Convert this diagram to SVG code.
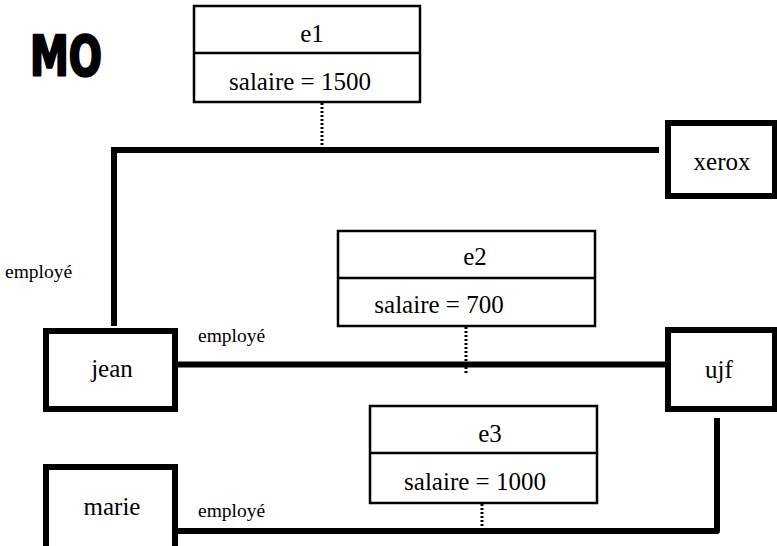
<svg xmlns="http://www.w3.org/2000/svg" width="777" height="546" viewBox="0 0 777 546">
<style>
  .lbl { font-size: 25px; fill: #000; text-anchor: middle; }
  .rl { font-size: 19.5px; fill: #000; }
  .obj { fill: #fff; stroke: #000; stroke-width: 6; }
  .link { fill: none; stroke: #000; stroke-width: 2.5; }
  .conn { fill: none; stroke: #000; stroke-width: 6; stroke-linecap: butt; }
  .dot { fill: none; stroke: #000; stroke-width: 3; stroke-dasharray: 2 2; }
</style>
<rect width="777" height="546" fill="#fff"/>
<text x="30" y="75" font-family="DejaVu Sans, sans-serif" font-weight="bold" font-size="56" textLength="72" lengthAdjust="spacingAndGlyphs" stroke="#000" stroke-width="2.5" stroke-linejoin="round">MO</text>

<g id="connectors" font-family="Liberation Serif, serif">
  <path class="conn" d="M114,326 V150 H659" stroke-linejoin="miter"/>
  <path class="conn" d="M178,364.5 H668"/>
  <path class="conn" d="M178,531 H717 V418" stroke-linejoin="round"/>
  <path class="dot" d="M322,103 V147"/>
  <path class="dot" d="M466,327 V375"/>
  <path class="dot" d="M482,504 V529"/>
  <text class="rl" x="5" y="278">employé</text>
  <text class="rl" x="198" y="342">employé</text>
  <text class="rl" x="198" y="517">employé</text>
</g>

<g id="e1" font-family="Liberation Serif, serif">
  <rect class="link" x="194" y="6" width="226" height="96"/>
  <line class="link" x1="194" y1="53" x2="420" y2="53"/>
  <text class="lbl" x="312" y="42">e1</text>
  <text class="lbl" x="300" y="90">salaire = 1500</text>
</g>

<g id="e2" font-family="Liberation Serif, serif">
  <rect class="link" x="338" y="231" width="257" height="95"/>
  <line class="link" x1="338" y1="278" x2="595" y2="278"/>
  <text class="lbl" x="475" y="265">e2</text>
  <text class="lbl" x="439" y="313">salaire = 700</text>
</g>

<g id="e3" font-family="Liberation Serif, serif">
  <rect class="link" x="370" y="406" width="227" height="97"/>
  <line class="link" x1="370" y1="453" x2="597" y2="453"/>
  <text class="lbl" x="490" y="442">e3</text>
  <text class="lbl" x="475" y="490">salaire = 1000</text>
</g>

<g id="xerox" font-family="Liberation Serif, serif">
  <rect class="obj" x="668" y="123" width="107" height="73"/>
  <text class="lbl" x="722" y="170">xerox</text>
</g>

<g id="ujf" font-family="Liberation Serif, serif">
  <rect class="obj" x="668" y="330" width="107" height="79"/>
  <text class="lbl" x="719" y="378">ujf</text>
</g>

<g id="jean" font-family="Liberation Serif, serif">
  <rect class="obj" x="46" y="331" width="129" height="78"/>
  <text class="lbl" x="112" y="377">jean</text>
</g>

<g id="marie" font-family="Liberation Serif, serif">
  <rect class="obj" x="46" y="467" width="129" height="90"/>
  <text class="lbl" x="112" y="515">marie</text>
</g>
</svg>
